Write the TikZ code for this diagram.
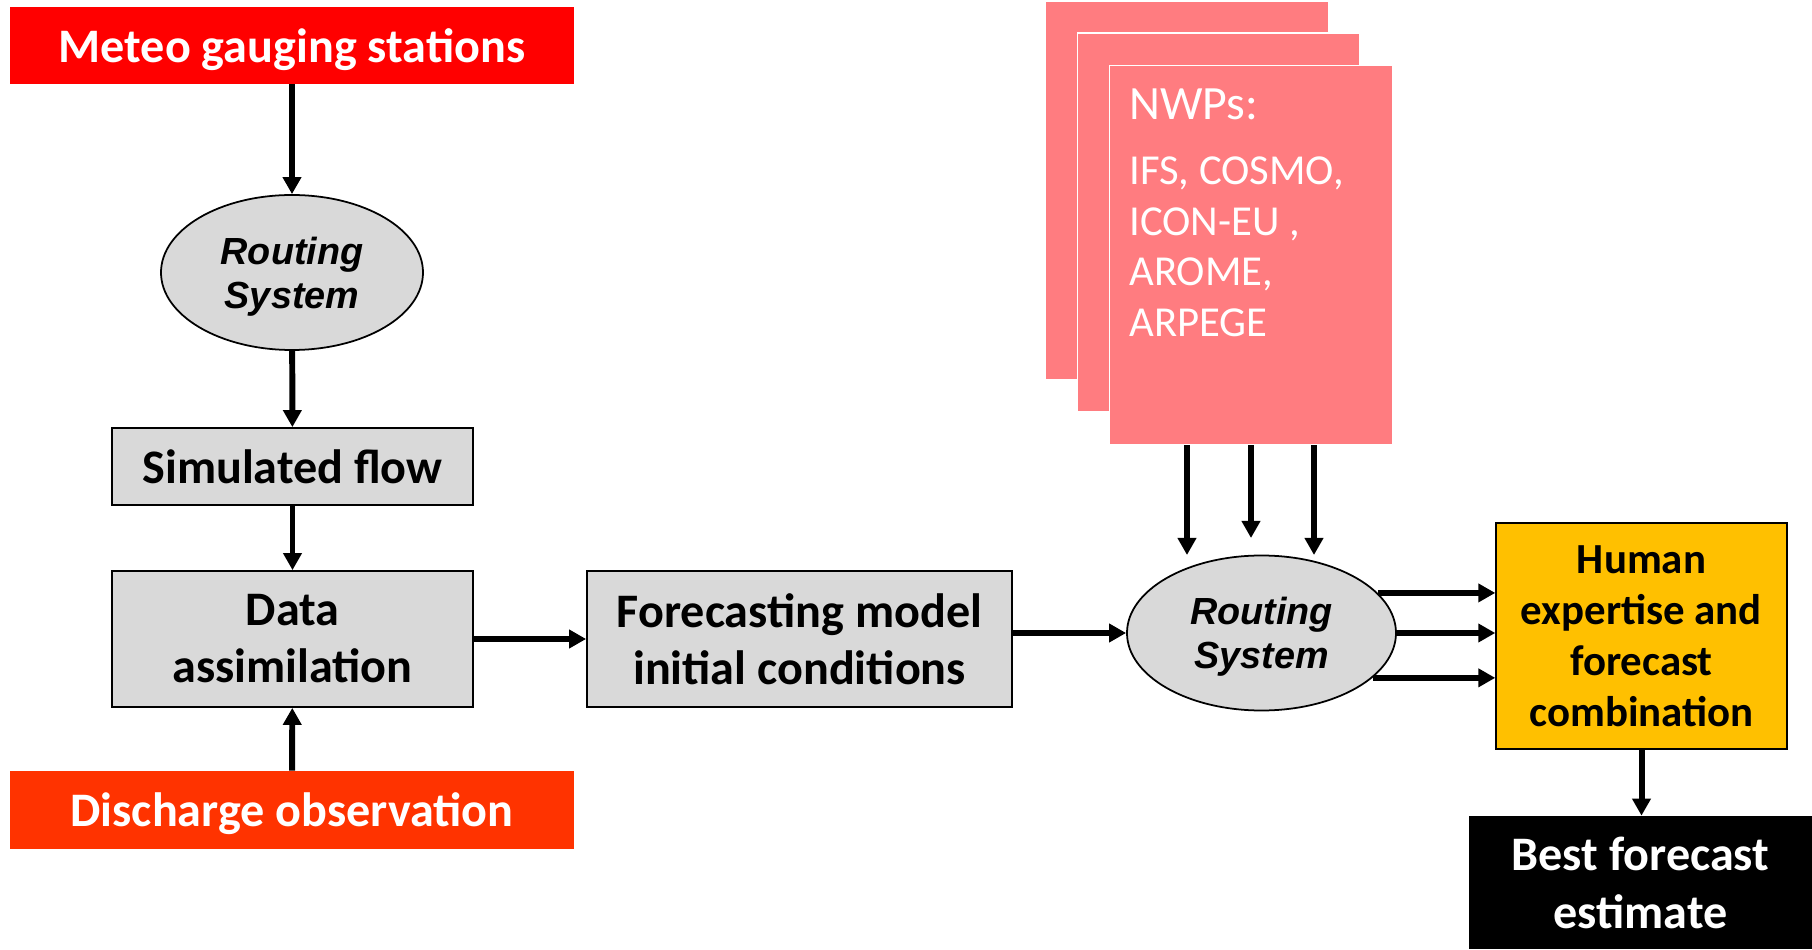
\documentclass[tikz,border=0pt]{standalone}
\usepackage{fontspec}
\setmainfont{Carlito}
\newfontfamily\arialfont{Liberation Sans}
\usepackage{tikz}
\usepackage{xcolor}
\usetikzlibrary{shapes.geometric,arrows.meta}

\definecolor{meteored}{HTML}{FF0000}
\definecolor{dischred}{HTML}{FF3300}
\definecolor{nwppink}{HTML}{FF7C80}
\definecolor{humanyel}{HTML}{FFC000}
\definecolor{boxgray}{HTML}{D9D9D9}

\newcommand{\bigtxt}{\fontsize{27.4}{32.4}\selectfont\bfseries}
\newcommand{\humantxt}{\fontsize{24.4}{29}\selectfont\bfseries}
\newcommand{\besttxt}{\fontsize{27.4}{33}\selectfont\bfseries}
\newcommand{\routtxt}{\arialfont\fontsize{21.5}{25}\selectfont\bfseries\itshape}
\newcommand{\nwptxt}{\fontsize{24.3}{29}\selectfont}

\begin{document}
\begin{tikzpicture}[every node/.style={inner sep=0pt, align=center},
    box/.style={rectangle, draw, line width=1pt, fill=boxgray, font=\bigtxt},
    banner/.style={rectangle, text=white, font=\bigtxt, text depth=0pt, minimum width=11.28cm},
    oval/.style={ellipse, draw, line width=1pt, fill=boxgray, font=\routtxt, text depth=0pt, minimum height=3.1cm},
    sheet/.style={rectangle, draw=white, line width=0.6pt, fill=nwppink, minimum width=5.65cm, minimum height=7.58cm},
    arr/.style={-{Triangle[length=9.7pt,width=10.2pt]}, line width=3.4pt}]
            \useasboundingbox (0,0) rectangle (36.24,18.98);

            % left column
            \node[banner, fill=meteored, minimum height=1.54cm] (M) at (5.84,18.07) {Meteo gauging stations};
            \node[oval, minimum width=5.24cm] (R1) at (5.84,13.53) {Routing\\System};
            \node[box, minimum width=7.22cm, minimum height=1.54cm] (SF) at (5.85,9.65) {Simulated flow};
            \node[box, minimum width=7.22cm, minimum height=2.72cm] (DA) at (5.85,6.20) {Data\\assimilation};
            \node[banner, fill=dischred, minimum height=1.56cm] (D) at (5.84,2.78) {Discharge observation};

            \node[box, minimum width=8.5cm, minimum height=2.72cm] (FM) at (15.99,6.20) {Forecasting model\\initial conditions};

            % NWP sheets
            \node[sheet] (N1) at (23.74,15.17) {};
            \node[sheet] (N2) at (24.37,14.53) {};
            \node[sheet] (N3) at (25.02,13.88) {};
            \node[anchor=north west, align=left, text=white, font=\nwptxt] (NT) at (22.58,17.22)
                {{\fontsize{27.2}{29}\selectfont NWPs:}\\[8pt]IFS, COSMO,\\ICON-EU ,\\AROME,\\ARPEGE};

            \node[oval, minimum width=5.38cm] (R2) at (25.23,6.32) {Routing\\System};

            % right column
            \node[rectangle, draw, line width=0.8pt, fill=humanyel, font=\humantxt,
                  minimum width=5.82cm, minimum height=4.52cm] (H) at (32.83,6.26)
                {Human\\expertise and\\forecast\\combination};
            \node[rectangle, fill=black, text=white, font=\besttxt,
                  minimum width=6.86cm, minimum height=2.66cm] (B) at (32.81,1.33)
                {Best forecast\\estimate};

            \coordinate (t1) at (23.74,7.88);
            \coordinate (t2) at (25.02,8.22);
            \coordinate (t3) at (26.28,7.88);

            \draw[arr] (M) -- (R1);
            \draw[arr] (R1) -- (SF);
            \draw[arr] (SF) -- (DA);
            \draw[arr] (D) -- (DA);
            \draw[arr] (DA) -- (FM);
            \draw[arr] (R2.west -| FM.east) -- (R2.west);

            \draw[arr] (t1 |- N3.south) -- (t1);
            \draw[arr] (t2 |- N3.south) -- (t2);
            \draw[arr] (t3 |- N3.south) -- (t3);

            \draw[arr] (R2.19) -- (R2.19 -| H.west);
            \draw[arr] (R2.east) -- (R2.east -| H.west);
            \draw[arr] (R2.-22) -- (R2.-22 -| H.west);

            \draw[arr] (H) -- (H |- B.north);
        \end{tikzpicture}
\end{document}
